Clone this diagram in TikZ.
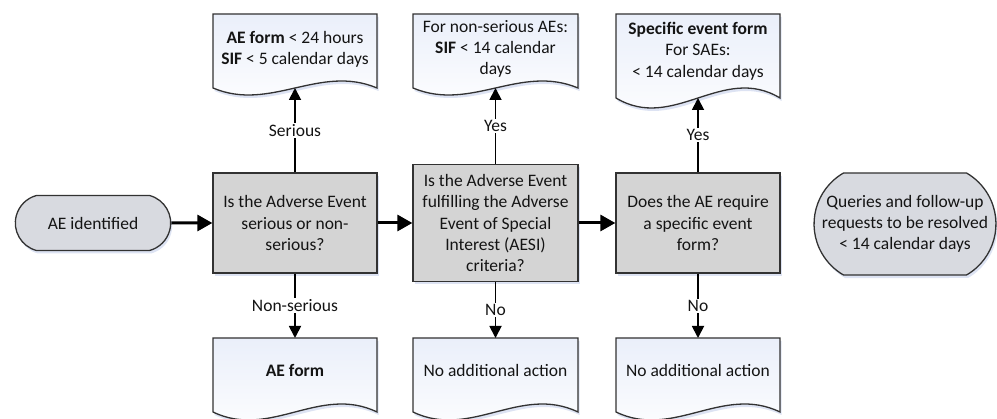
\documentclass[tikz,border=0pt]{standalone}
\usepackage{fontspec}
\setmainfont{Carlito}
\usetikzlibrary{arrows.meta,shapes.misc,shadows}
\definecolor{boxgray}{RGB}{212,212,212}
\definecolor{termgray}{RGB}{216,218,224}
\definecolor{docblue}{RGB}{234,239,250}
\definecolor{shadowblue}{RGB}{212,220,240}
\definecolor{edgegray}{RGB}{50,50,50}
\definecolor{txt}{RGB}{20,20,20}
\newcommand\docpath[6]{%
  \path[#1] (#2,#3) -- (#4,#3) -- (#4,#5)
    .. controls ({#2+0.65*(#4-#2)},{#5-3.46*#6}) and ({#2+0.35*(#4-#2)},{#5+3.46*#6}) .. (#2,#5) -- cycle;}
\begin{document}
\begin{tikzpicture}[x=1pt,y=-1pt,
  font=\fontsize{17.5}{21.3}\selectfont,
  shad/.style={drop shadow={shadow xshift=1.5pt, shadow yshift=-3pt, fill=shadowblue, opacity=0.8}},
  proc/.style={rectangle, draw=edgegray, line width=1.3pt, fill=boxgray, align=center, inner sep=2pt, text=txt, shad},
  term/.style={rounded rectangle, rounded rectangle arc length=150, draw=edgegray, line width=1.3pt, fill=termgray, align=center, text=txt, shad},
  termshape/.style={draw=edgegray, line width=1.3pt, fill=termgray, shad},
  docline/.style={draw=edgegray, line width=1.3pt, top color=docblue, bottom color=white},
  docshadow/.style={fill=shadowblue, opacity=0.8},
  doctext/.style={align=center, text=txt, inner sep=0pt},
  harr/.style={line width=3pt, -{Triangle[length=15pt,width=16pt]}},
  varr/.style={line width=1.8pt, -{Triangle[length=12pt,width=12pt]}},
  lbl/.style={fill=white, inner sep=1.5pt, text=txt}]
\useasboundingbox (0,0) rectangle (997,419);
\clip (0,0) rectangle (997,419);

% ---- top documents
\docpath{docshadow, shift={(1.5,3)}}{213}{14}{377}{88}{7}
\docpath{docline}{213}{14}{377}{88}{7}
\node[doctext] (d1) at (295,49) {\textbf{AE form} < 24 hours\\\textbf{SIF} < 5 calendar days};
\coordinate (d1w) at (295,88);

\docpath{docshadow, shift={(1.5,3)}}{413}{14}{578}{88}{7}
\docpath{docline}{413}{14}{578}{88}{7}
\node[doctext] (d2) at (495.5,49) {For non-serious AEs:\\\textbf{SIF} < 14 calendar\\days};
\coordinate (d2w) at (495.5,88);

\docpath{docshadow, shift={(1.5,3)}}{616}{14}{780}{98}{10}
\docpath{docline}{616}{14}{780}{98}{10}
\node[doctext] (d3) at (698,51) {\textbf{Specific event form}\\For SAEs:\\< 14 calendar days};
\coordinate (d3w) at (698,98);

% ---- bottom documents
\docpath{docshadow, shift={(1.5,3)}}{213}{338}{377}{412}{8}
\docpath{docline}{213}{338}{377}{412}{8}
\node[doctext] (d4) at (295,370) {\textbf{AE form}};
\coordinate (d4t) at (295,338);

\docpath{docshadow, shift={(1.5,3)}}{413}{338}{578}{412}{8}
\docpath{docline}{413}{338}{578}{412}{8}
\node[doctext] (d5) at (495.5,370) {No additional action};
\coordinate (d5t) at (495.5,338);

\docpath{docshadow, shift={(1.5,3)}}{616}{338}{780}{412}{8}
\docpath{docline}{616}{338}{780}{412}{8}
\node[doctext] (d6) at (698,370) {No additional action};
\coordinate (d6t) at (698,338);

% ---- middle row
\node[term, minimum width=162pt, minimum height=55pt] (ae) at (93,223) {AE identified};
\node[proc, minimum width=164pt, minimum height=100pt] (b1) at (295,223) {Is the Adverse Event\\serious or non-\\serious?};
\node[proc, minimum width=165pt, minimum height=117pt] (b2) at (495.5,223) {Is the Adverse Event\\fulfilling the Adverse\\Event of Special\\Interest (AESI)\\criteria?};
\node[proc, minimum width=164pt, minimum height=100pt] (b3) at (698,223) {Does the AE require\\a specific event\\form?};

\path[termshape] (843.5,173) arc[start angle=120, end angle=240, radius=58.9pt]
  -- (966.5,275) arc[start angle=-60, end angle=60, radius=58.9pt] -- cycle;
\node[doctext] (q) at (905,224) {Queries and follow-up\\requests to be resolved\\< 14 calendar days};

% ---- connectors
\draw[harr] (ae) -- (b1);
\draw[harr] (b1) -- (b2);
\draw[harr] (b2) -- (b3);

\draw[varr] (b1.north) -- node[lbl] {Serious} (d1w);
\draw[varr] (b2.north) -- node[lbl] {Yes} (d2w);
\draw[varr] (b3.north) -- node[lbl] {Yes} (d3w);

\draw[varr] (b1.south) -- node[lbl] {Non-serious} (d4t);
\draw[varr] (b2.south) -- node[lbl] {No} (d5t);
\draw[varr] (b3.south) -- node[lbl] {No} (d6t);
\end{tikzpicture}
\end{document}
